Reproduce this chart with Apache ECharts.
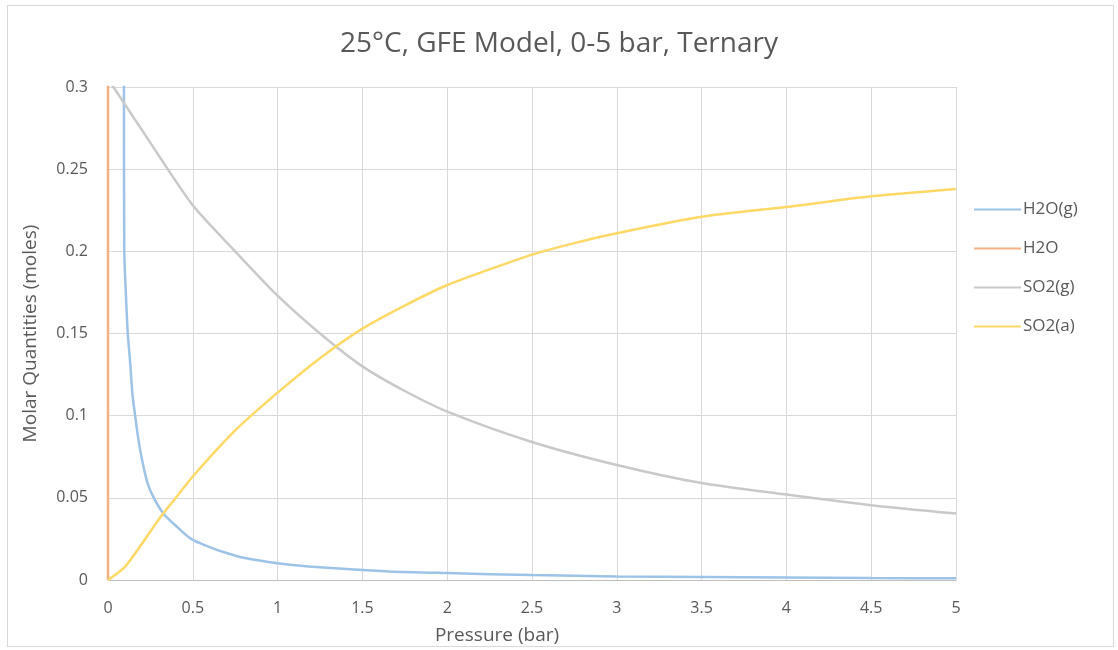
<!DOCTYPE html>
<html>
<head>
<meta charset="utf-8">
<script src="https://cdn.jsdelivr.net/npm/echarts@6/dist/echarts.min.js"></script>
<style>
html,body{margin:0;padding:0;background:#fff;}
#frame{position:absolute;left:7px;top:5px;width:1107px;height:642px;border:1px solid #d9d9d9;box-sizing:border-box;}
#chart{position:absolute;left:0;top:0;width:1118px;height:650px;}
</style>
</head>
<body>
<div id="frame"></div>
<div id="chart"></div>
<script>
const titleText = '25°C, GFE Model, 0-5 bar, Ternary';
const xName = 'Pressure (bar)';
const yName = 'Molar Quantities (moles)';
const seriesNames = ['H2O(g)', 'H2O', 'SO2(g)', 'SO2(a)'];

// H2O(g): [pressure, moles]
const h2oGas = [
  [0.093, 0.60], [0.094, 0.30], [0.096, 0.20], [0.105, 0.175], [0.116, 0.151],
  [0.130, 0.133], [0.145, 0.112], [0.160, 0.100], [0.180, 0.085], [0.205, 0.071],
  [0.233, 0.059], [0.270, 0.050], [0.330, 0.040], [0.400, 0.033], [0.490, 0.025],
  [0.600, 0.020], [0.680, 0.017], [0.800, 0.0135], [1.000, 0.0102], [1.250, 0.0077],
  [1.660, 0.0052], [2.000, 0.0042], [2.500, 0.0030], [3.000, 0.0022], [3.500, 0.0018],
  [4.000, 0.0015], [4.500, 0.0012], [5.000, 0.0010]
];
// H2O (liquid)
const h2oLiq = [[0, 0.60], [0, 0]];
// SO2(g)
const so2Gas = [
  [0, 0.305], [0.25, 0.266], [0.5, 0.228], [0.75, 0.200], [1.0, 0.173],
  [1.25, 0.150], [1.5, 0.130], [1.75, 0.115], [2.0, 0.1025], [2.5, 0.084],
  [3.0, 0.070], [3.5, 0.059], [4.0, 0.052], [4.5, 0.0455], [5.0, 0.0404]
];
// SO2(a)
const so2Aq = [
  [0, 0], [0.1, 0.008], [0.2, 0.022], [0.3, 0.037], [0.4, 0.050], [0.5, 0.063],
  [0.75, 0.091], [1.0, 0.114], [1.25, 0.135], [1.5, 0.153], [1.75, 0.167],
  [2.0, 0.1795], [2.25, 0.189], [2.5, 0.198], [2.75, 0.205], [3.0, 0.211],
  [3.5, 0.221], [4.0, 0.227], [4.5, 0.2335], [5.0, 0.238]
];

const colors = ['#9DC3E6', '#F4B183', '#C9C9C9', '#FFD966'];
const font = '"Open Sans", "Liberation Sans", sans-serif';

const chart = echarts.init(document.getElementById('chart'));
const datas = [h2oGas, h2oLiq, so2Gas, so2Aq];
chart.setOption({
  animation: false,
  color: colors,
  title: {
    text: titleText, left: 'center', top: 25,
    textStyle: {fontFamily: font, fontSize: 28, fontWeight: 'normal', color: '#595959'}
  },
  legend: {
    orient: 'vertical', left: 969, top: 196, itemGap: 22,
    itemWidth: 47, itemHeight: 18,
    icon: 'path://M0,8 L47,8 L47,10 L0,10 Z',
    textStyle: {fontFamily: font, fontSize: 17, color: '#595959', padding: [0, 0, 0, -3]},
    data: seriesNames
  },
  grid: {left: 108, right: 162, top: 87, bottom: 65, containLabel: false},
  xAxis: {
    type: 'value', min: 0, max: 5, interval: 0.5,
    name: xName, nameLocation: 'middle', nameGap: 46,
    nameTextStyle: {fontFamily: font, fontSize: 19, color: '#595959', padding: [0, 70, 0, 0]},
    axisLine: {show: true, lineStyle: {color: '#BFBFBF', width: 1}},
    axisTick: {show: false},
    axisLabel: {fontFamily: font, fontSize: 16, color: '#595959', margin: 20},
    splitLine: {show: true, lineStyle: {color: '#D9D9D9', width: 1}}
  },
  yAxis: {
    type: 'value', min: 0, max: 0.3, interval: 0.05,
    name: yName, nameLocation: 'middle', nameGap: 68,
    nameTextStyle: {fontFamily: font, fontSize: 19, color: '#595959'},
    axisLine: {show: false},
    axisTick: {show: false},
    axisLabel: {fontFamily: font, fontSize: 16, color: '#595959', margin: 20},
    splitLine: {show: true, lineStyle: {color: '#D9D9D9', width: 1}}
  },
  series: seriesNames.map((n, i) => ({
    name: n, type: 'line', data: datas[i], showSymbol: false, symbol: 'none',
    smooth: i === 1 ? false : 0.25, clip: true,
    lineStyle: {width: 2.5, color: colors[i]},
    itemStyle: {color: colors[i]},
    z: i === 1 ? 1 : 2
  }))
});
</script>
</body>
</html>
